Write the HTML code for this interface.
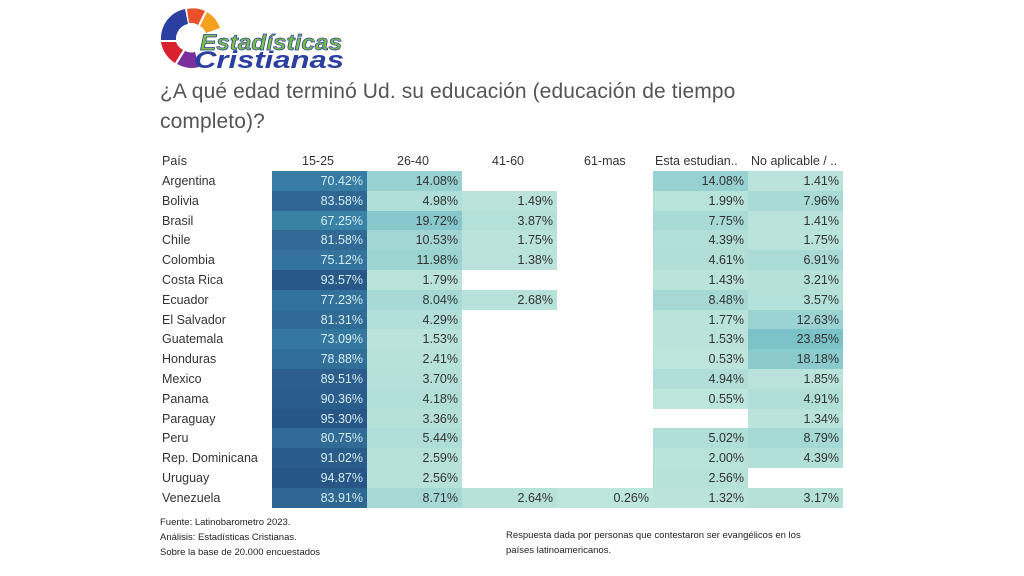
<!DOCTYPE html><html><head><meta charset="utf-8"><style>
body{margin:0;width:1024px;height:576px;background:#fff;font-family:"Liberation Sans",sans-serif;position:relative;overflow:hidden}
.t{position:absolute;left:160px;top:77px;font-size:21px;color:#555;line-height:30px;letter-spacing:0.1px}
.h{position:absolute;top:154px;font-size:12.5px;color:#333}
.lab{position:absolute;left:162px;font-size:12.5px;color:#333}
.c{position:absolute;height:19.8px;font-size:12.5px;text-align:right;box-sizing:border-box;padding-right:4px;line-height:20px}
.f{position:absolute;font-size:9.5px;color:#222;line-height:15px}
</style></head><body>
<svg style="position:absolute;left:158px;top:4px" width="200" height="68">
<g transform="translate(33,34)">
<path d="M-6,-29 A30,30 0 0 0 -30,2 L-15,2 A15,15 0 0 1 -3,-14 Z" fill="#2b3fa0"/>
<path d="M-4,-29 A30,30 0 0 1 14,-27 L7,-13 A15,15 0 0 0 -2,-15 Z" fill="#e8512a"/>
<path d="M16,-26 A30,30 0 0 1 29,-10 L15,-5 A15,15 0 0 0 9,-12 Z" fill="#f4a020"/>
<path d="M-30,4 A30,30 0 0 0 -16,25 L-8,12 A15,15 0 0 1 -15,4 Z" fill="#d9202e"/>
<path d="M-14,26 A30,30 0 0 0 8,29 L4,14 A15,15 0 0 1 -6,13 Z" fill="#7a2f9a"/>
</g>
<text x="42" y="46" textLength="142" lengthAdjust="spacingAndGlyphs" font-family="Liberation Sans" font-weight="bold" font-style="italic" font-size="22" fill="#7cc242" stroke="#2b3fa0" stroke-width="0.7">Estadísticas</text>
<text x="36" y="64" textLength="150" lengthAdjust="spacingAndGlyphs" font-family="Liberation Sans" font-weight="bold" font-style="italic" font-size="24" fill="#2b3fa0">Cristianas</text>
</svg>
<div class="t">¿A qué edad terminó Ud. su educación (educación de tiempo<br>completo)?</div>
<div class="h" style="left:162px">País</div>
<div class="h" style="left:302px">15-25</div>
<div class="h" style="left:397px">26-40</div>
<div class="h" style="left:492px">41-60</div>
<div class="h" style="left:584px">61-mas</div>
<div class="h" style="left:655px">Esta estudian..</div>
<div class="h" style="left:751px">No aplicable / ..</div>
<div id="g"></div>
<div class="f" style="left:160px;top:515px">Fuente: Latinobarometro 2023.<br>Análisis: Estadísticas Cristianas.<br>Sobre la base de 20.000 encuestados</div>
<div class="f" style="left:506px;top:528px">Respuesta dada por personas que contestaron ser evangélicos en los<br>países latinoamericanos.</div>
<script>
var d=[["Argentina",70.42,14.08,null,null,14.08,1.41],["Bolivia",83.58,4.98,1.49,null,1.99,7.96],["Brasil",67.25,19.72,3.87,null,7.75,1.41],["Chile",81.58,10.53,1.75,null,4.39,1.75],["Colombia",75.12,11.98,1.38,null,4.61,6.91],["Costa Rica",93.57,1.79,null,null,1.43,3.21],["Ecuador",77.23,8.04,2.68,null,8.48,3.57],["El Salvador",81.31,4.29,null,null,1.77,12.63],["Guatemala",73.09,1.53,null,null,1.53,23.85],["Honduras",78.88,2.41,null,null,0.53,18.18],["Mexico",89.51,3.70,null,null,4.94,1.85],["Panama",90.36,4.18,null,null,0.55,4.91],["Paraguay",95.30,3.36,null,null,null,1.34],["Peru",80.75,5.44,null,null,5.02,8.79],["Rep. Dominicana",91.02,2.59,null,null,2.00,4.39],["Uruguay",94.87,2.56,null,null,2.56,null],["Venezuela",83.91,8.71,2.64,0.26,1.32,3.17]];
var stops=[[0,[190,230,220]],[25,[120,192,200]],[65,[58,132,168]],[100,[36,78,128]]];
function col(v){for(var i=1;i<stops.length;i++){if(v<=stops[i][0]){var a=stops[i-1],b=stops[i],t=(v-a[0])/(b[0]-a[0]);return "rgb("+a[1].map(function(x,k){return Math.round(x+(b[1][k]-x)*t)}).join(",")+")"}}}
var xs=[272,367,462,557,653,748,843],h="";
d.forEach(function(r,i){var y=171+i*19.8;h+='<div class="lab" style="top:'+(y+3)+'px">'+r[0]+'</div>';
for(var j=1;j<7;j++){var v=r[j];if(v==null)continue;h+='<div class="c" style="left:'+xs[j-1]+'px;width:'+(xs[j]-xs[j-1])+'px;top:'+y+'px;background:'+col(v)+';color:'+(v>50?'#d4ecef':'#333')+'">'+v.toFixed(2)+'%</div>';}});
document.getElementById("g").innerHTML=h;
</script>
</body></html>
